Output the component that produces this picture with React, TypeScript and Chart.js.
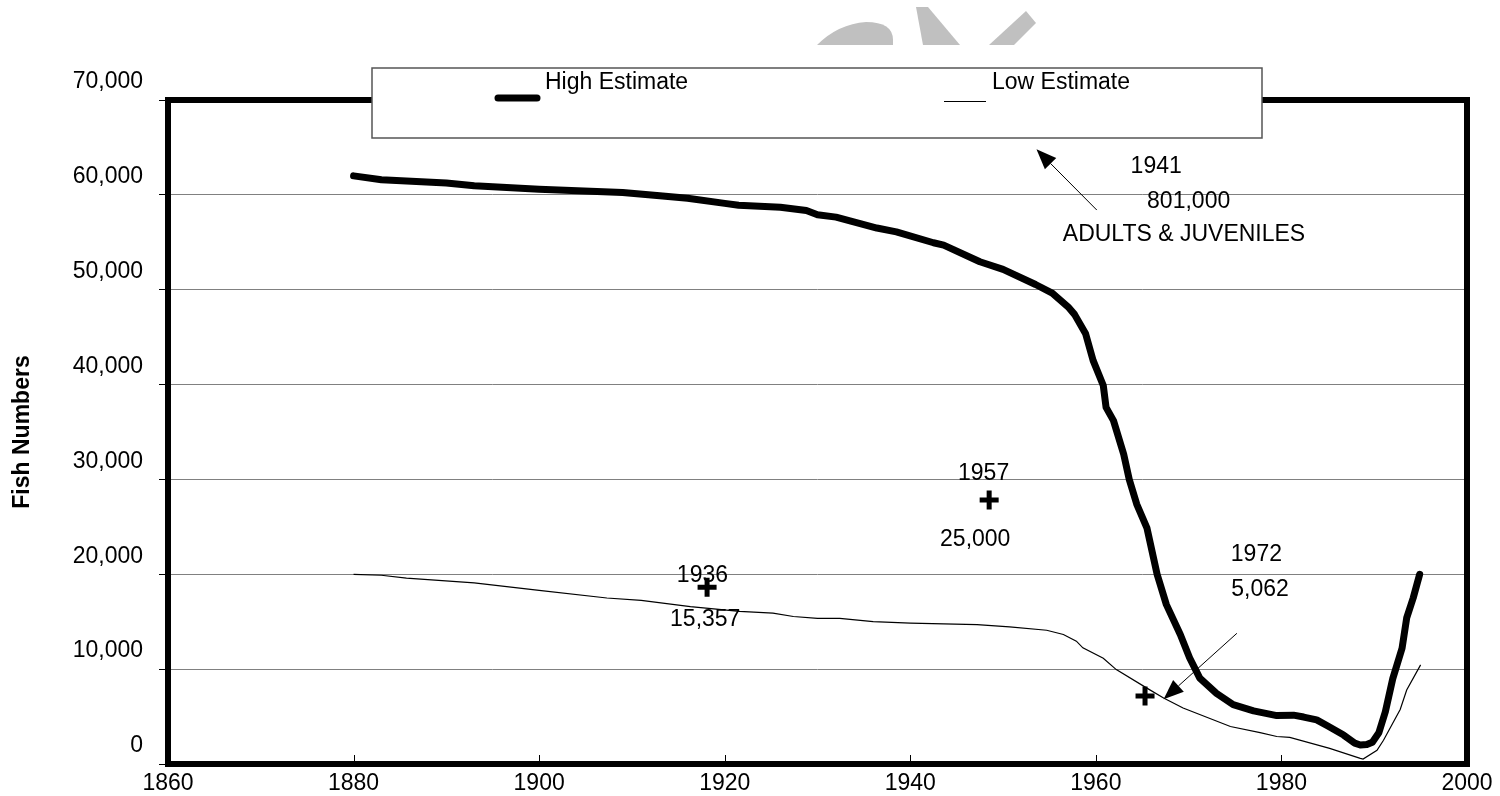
import React, { useEffect, useRef } from "react";
import { Chart, registerables } from "chart.js";

Chart.register(...registerables);

const FONT = '"Liberation Sans", Arial, Helvetica, sans-serif';

// High estimate series (year, fish numbers)
const highYears = [
  1880, 1883, 1890, 1893, 1900, 1909, 1913, 1916, 1920, 1921.5, 1926, 1928.8, 1930,
  1932, 1936.4, 1938.5, 1942.5, 1943.6, 1947.5, 1950, 1953.5, 1955.3, 1957, 1957.7,
  1958.9, 1959.7, 1960.8, 1961.1, 1961.9, 1963, 1963.6, 1964.4, 1965.5, 1966.6,
  1967.6, 1969.1, 1970.1, 1971.2, 1973, 1974.8, 1977, 1979.5, 1981.3, 1982.4, 1983.8,
  1985, 1986.7, 1987.9, 1988.5, 1989.2, 1989.8, 1990.5, 1991.2, 1992, 1993, 1993.5,
  1994.2, 1994.9,
];
const highValues = [
  62000, 61600, 61250, 60950, 60600, 60250, 59900, 59650, 59100, 58900, 58700, 58350, 57900,
  57650, 56500, 56100, 54950, 54700, 52950, 52150, 50550, 49650, 48200, 47400,
  45350, 42550, 39900, 37600, 36200, 32650, 30000, 27400, 24900, 20000,
  16800, 13650, 11200, 9050, 7450, 6250, 5600, 5100, 5150, 4950, 4650,
  4000, 3050, 2200, 2000, 2050, 2300, 3300, 5500, 9000, 12200, 15400,
  17500, 20000,
];

// Low estimate series
const lowYears = [
  1880, 1883, 1885.7, 1893, 1900, 1907.3, 1911, 1916.3, 1921.6, 1925.2, 1927.4, 1930,
  1932.4, 1936, 1940, 1947.2, 1950.7, 1954.7, 1956.5, 1957.9, 1958.6, 1960.8, 1962.2,
  1965.5, 1967.3, 1969.4, 1974.5, 1977.7, 1979.5, 1980.9, 1985.2, 1988.5, 1988.8,
  1990.3, 1991, 1992.8, 1993.5, 1995,
];
const lowValues = [
  20000, 19900, 19600, 19100, 18300, 17500, 17250, 16600, 16100, 15900, 15550, 15350,
  15350, 15000, 14850, 14700, 14450, 14100, 13650, 12950, 12250, 11150, 9950,
  8000, 6950, 5900, 3950, 3300, 2900, 2800, 1650, 600, 520,
  1450, 2500, 5750, 7800, 10450,
];

// Survey points (plus markers)
const markerYears = [1918.1, 1948.5, 1965.3];
const markerValues = [18630, 27830, 7170];

// Axis ticks
const xTickValues = [1860, 1880, 1900, 1920, 1940, 1960, 1980, 2000];
const yTickValues = [0, 10000, 20000, 30000, 40000, 50000, 60000, 70000];

const seriesLabels = ["High Estimate", "Low Estimate"];
const yAxisTitle = "Fish Numbers";

// Text annotations (placed in data units)
const noteTexts = ["1936", "15,357", "1957", "25,000", "1972", "5,062", "1941", "801,000", "ADULTS & JUVENILES"];
const noteYears = [1917.6, 1917.9, 1947.9, 1947.0, 1977.3, 1977.7, 1966.5, 1970.0, 1969.5];
const noteValues = [19900, 15180, 30620, 23610, 22030, 18400, 62970, 59280, 55770];

// Arrows (tail -> head) in data units
const arrowFromYears = [1960.1, 1975.2];
const arrowFromValues = [58400, 13780];
const arrowToYears = [1953.6, 1967.3];
const arrowToValues = [64800, 6820];

const decorPlugin = {
  id: "decor",
  beforeDraw(chart: any) {
    const ctx = chart.ctx;
    ctx.save();
    ctx.fillStyle = "#c0c0c0";
    // partial watermark shapes at top
    ctx.beginPath();
    ctx.moveTo(817, 45);
    ctx.quadraticCurveTo(838, 24, 866, 22);
    ctx.quadraticCurveTo(893, 22, 893, 40);
    ctx.lineTo(893, 45);
    ctx.closePath();
    ctx.fill();
    ctx.beginPath();
    ctx.moveTo(916, 7);
    ctx.lineTo(928, 7);
    ctx.lineTo(960, 45);
    ctx.lineTo(923, 45);
    ctx.closePath();
    ctx.fill();
    ctx.beginPath();
    ctx.moveTo(1026, 11);
    ctx.lineTo(1036, 23);
    ctx.lineTo(1014, 45);
    ctx.lineTo(989, 45);
    ctx.closePath();
    ctx.fill();
    ctx.restore();
  },
  afterDatasetsDraw(chart: any) {
    const { ctx, chartArea: a, scales } = chart;
    const xs = scales.x;
    const ys = scales.y;
    ctx.save();

    // inner x tick marks
    ctx.strokeStyle = "#000";
    ctx.lineWidth = 1;
    xTickValues.forEach((v) => {
      const px = Math.round(xs.getPixelForValue(v)) + 0.5;
      ctx.beginPath();
      ctx.moveTo(px, a.bottom - 9);
      ctx.lineTo(px, a.bottom);
      ctx.stroke();
    });

    // thick plot border
    ctx.lineWidth = 6;
    ctx.strokeStyle = "#000";
    ctx.strokeRect(a.left, a.top, a.right - a.left, a.bottom - a.top);

    // annotation texts
    ctx.fillStyle = "#000";
    ctx.font = `23px ${FONT}`;
    ctx.textAlign = "center";
    ctx.textBaseline = "middle";
    noteTexts.forEach((t, i) => {
      ctx.fillText(t, xs.getPixelForValue(noteYears[i]), ys.getPixelForValue(noteValues[i]));
    });

    // arrows
    arrowFromYears.forEach((_, i) => {
      const x1 = xs.getPixelForValue(arrowFromYears[i]);
      const y1 = ys.getPixelForValue(arrowFromValues[i]);
      const x2 = xs.getPixelForValue(arrowToYears[i]);
      const y2 = ys.getPixelForValue(arrowToValues[i]);
      const ang = Math.atan2(y2 - y1, x2 - x1);
      const len = 20;
      const hw = 8;
      const bx = x2 - len * Math.cos(ang);
      const by = y2 - len * Math.sin(ang);
      ctx.strokeStyle = "#000";
      ctx.lineWidth = 1;
      ctx.beginPath();
      ctx.moveTo(x1, y1);
      ctx.lineTo(bx, by);
      ctx.stroke();
      ctx.beginPath();
      ctx.moveTo(x2, y2);
      ctx.lineTo(bx + hw * Math.sin(ang), by - hw * Math.cos(ang));
      ctx.lineTo(bx - hw * Math.sin(ang), by + hw * Math.cos(ang));
      ctx.closePath();
      ctx.fill();
    });

    // legend box
    const lx = 372;
    const ly = 68;
    const lw = 890;
    const lh = 70;
    ctx.fillStyle = "#fff";
    ctx.fillRect(lx, ly, lw, lh);
    ctx.strokeStyle = "#555";
    ctx.lineWidth = 1.5;
    ctx.strokeRect(lx, ly, lw, lh);

    const ds = chart.data.datasets;
    const sampleX = [495, 944];
    const sampleY = [98, 101.5];
    const textX = [545, 992];
    seriesLabels.forEach((lab, i) => {
      ctx.strokeStyle = "#000";
      ctx.lineWidth = ds[i].borderWidth;
      ctx.lineCap = i === 0 ? "round" : "butt";
      ctx.beginPath();
      ctx.moveTo(sampleX[i] + (i === 0 ? 3 : 0), sampleY[i]);
      ctx.lineTo(sampleX[i] + 42, sampleY[i]);
      ctx.stroke();
      ctx.fillStyle = "#000";
      ctx.font = `23px ${FONT}`;
      ctx.textAlign = "left";
      ctx.textBaseline = "middle";
      ctx.fillText(lab, textX[i], 83);
    });

    ctx.restore();
  },
};

export default function App() {
  const canvasRef = useRef<HTMLCanvasElement | null>(null);

  useEffect(() => {
    document.body.style.margin = "0";
    const canvas = canvasRef.current;
    if (!canvas) return;
    Chart.defaults.font.family = FONT;
    const chart = new Chart(canvas, {
      type: "line",
      data: {
        datasets: [
          {
            label: seriesLabels[0],
            data: highYears.map((x, i) => ({ x, y: highValues[i] })),
            borderColor: "#000",
            backgroundColor: "#000",
            borderWidth: 7,
            pointRadius: 0,
            borderCapStyle: "round",
            borderJoinStyle: "round",
            tension: 0,
            fill: false,
          },
          {
            label: seriesLabels[1],
            data: lowYears.map((x, i) => ({ x, y: lowValues[i] })),
            borderColor: "#000",
            backgroundColor: "#000",
            borderWidth: 1.2,
            pointRadius: 0,
            tension: 0,
            fill: false,
          },
          {
            label: "Surveys",
            type: "scatter",
            data: markerYears.map((x, i) => ({ x, y: markerValues[i] })),
            borderColor: "#000",
            backgroundColor: "#000",
            pointStyle: "cross",
            pointRadius: 9.5,
            pointBorderWidth: 5,
            showLine: false,
          } as any,
        ],
      },
      options: {
        animation: false,
        responsive: true,
        maintainAspectRatio: false,
        devicePixelRatio: 1,
        layout: { padding: { top: 100, right: 33, left: 0, bottom: 0 } },
        plugins: {
          legend: { display: false },
          tooltip: { enabled: false },
        },
        scales: {
          x: {
            type: "linear",
            min: 1860,
            max: 2000,
            afterBuildTicks: (s: any) => {
              s.ticks = xTickValues.map((v) => ({ value: v }));
            },
            afterFit: (s: any) => {
              s.height = 32;
            },
            grid: { display: false, drawTicks: false },
            border: { display: false },
            ticks: {
              color: "#000",
              font: { size: 23, family: FONT },
              padding: 6,
              maxRotation: 0,
              autoSkip: false,
              callback: (v: any) => String(v),
            },
          },
          y: {
            type: "linear",
            min: 0,
            max: 70000,
            afterBuildTicks: (s: any) => {
              s.ticks = yTickValues.map((v) => ({ value: v }));
            },
            afterFit: (s: any) => {
              s.width = 168;
            },
            grid: {
              color: "#808080",
              lineWidth: 1,
              drawTicks: true,
              tickLength: 9,
              tickColor: "#000",
              tickWidth: 1,
            },
            border: { display: false },
            title: {
              display: true,
              text: yAxisTitle,
              color: "#000",
              font: { size: 23, weight: "bold", family: FONT },
              padding: { top: 9, bottom: 0 },
            },
            ticks: {
              color: "#000",
              font: { size: 23, family: FONT },
              padding: 16,
              labelOffset: -18,
              autoSkip: false,
              callback: (v: any) => Number(v).toLocaleString("en-US"),
            },
          },
        },
      },
      plugins: [decorPlugin],
    });
    return () => chart.destroy();
  }, []);

  return (
    <div style={{ position: "fixed", left: 0, top: 0, width: 1500, height: 796, background: "#fff" }}>
      <canvas ref={canvasRef} />
    </div>
  );
}
